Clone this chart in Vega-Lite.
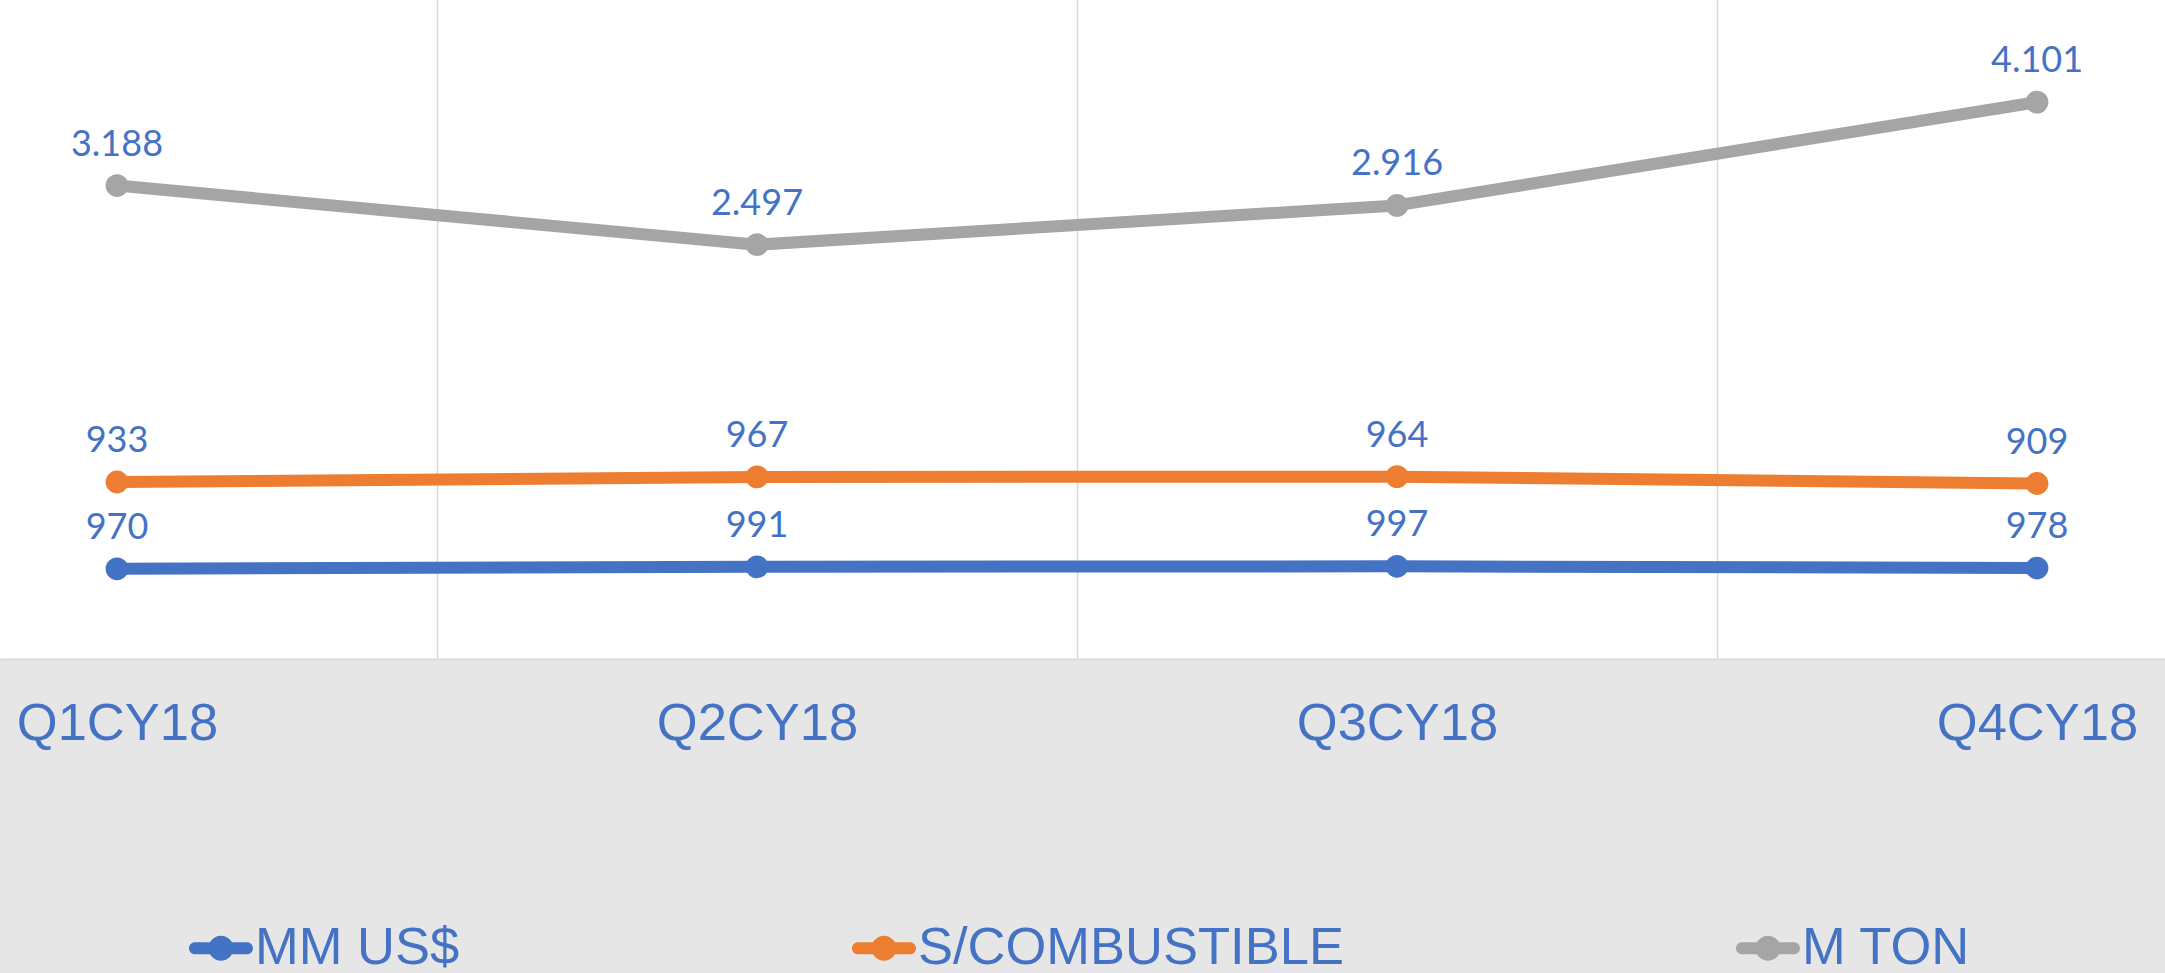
{
  "$schema": "https://vega.github.io/schema/vega-lite/v6.json",
  "width": 2165,
  "height": 659,
  "autosize": {"type": "none"},
  "padding": {"top": 0, "left": 0, "right": 0, "bottom": 314},
  "background": "#e6e6e6",
  "config": {
    "view": {"fill": "white", "stroke": null},
    "locale": {"number": {"decimal": ",", "thousands": ".", "grouping": [3], "currency": ["$", ""]}}
  },
  "data": {
    "values": [
      {"q": "Q1CY18", "s": "MM US$", "v": 970},
      {"q": "Q2CY18", "s": "MM US$", "v": 991},
      {"q": "Q3CY18", "s": "MM US$", "v": 997},
      {"q": "Q4CY18", "s": "MM US$", "v": 978},
      {"q": "Q1CY18", "s": "S/COMBUSTIBLE", "v": 933},
      {"q": "Q2CY18", "s": "S/COMBUSTIBLE", "v": 967},
      {"q": "Q3CY18", "s": "S/COMBUSTIBLE", "v": 964},
      {"q": "Q4CY18", "s": "S/COMBUSTIBLE", "v": 909},
      {"q": "Q1CY18", "s": "M TON", "v": 3188},
      {"q": "Q2CY18", "s": "M TON", "v": 2497},
      {"q": "Q3CY18", "s": "M TON", "v": 2916},
      {"q": "Q4CY18", "s": "M TON", "v": 4101}
    ]
  },
  "transform": [
    {"calculate": "indexof(['Q1CY18','Q2CY18','Q3CY18','Q4CY18'], datum.q)", "as": "i"},
    {"calculate": "indexof(['MM US$','S/COMBUSTIBLE','M TON'], datum.s)", "as": "k"},
    {"stack": "v", "groupby": ["q"], "sort": [{"field": "k", "order": "ascending"}], "as": ["y0", "y1"]}
  ],
  "encoding": {
    "x": {
      "field": "i",
      "type": "quantitative",
      "scale": {"domain": [-0.1828, 3.2], "nice": false, "zero": false},
      "axis": {
        "title": null,
        "values": [0, 0.5, 1, 1.5, 2, 2.5, 3],
        "labelExpr": "datum.value % 1 === 0 ? ['Q1CY18','Q2CY18','Q3CY18','Q4CY18'][datum.value] : ''",
        "labelOverlap": false,
        "labelFlush": false,
        "labelBound": false,
        "labelLimit": 0,
        "labelFont": "Liberation Sans",
        "labelFontSize": 52.5,
        "labelColor": "#4472C4",
        "labelPadding": 39,
        "labelBaseline": "top",
        "ticks": false,
        "grid": true,
        "gridColor": "#d9d9d9",
        "gridWidth": 1.5,
        "gridOpacity": {"condition": {"test": "datum.value % 1 !== 0", "value": 1}, "value": 0},
        "domain": true,
        "domainColor": "#d9d9d9",
        "domainWidth": 2
      }
    },
    "y": {
      "field": "y1",
      "type": "quantitative",
      "scale": {"domain": [0, 7086], "nice": false},
      "axis": null
    }
  },
  "layer": [
    {
      "mark": {"type": "line", "strokeWidth": 12, "strokeCap": "round", "strokeJoin": "round"},
      "encoding": {
        "color": {
          "field": "s",
          "type": "nominal",
          "scale": {"domain": ["MM US$", "S/COMBUSTIBLE", "M TON"], "range": ["#4472C4", "#ED7D31", "#A5A5A5"]},
          "legend": {
            "title": null,
            "orient": "none",
            "direction": "horizontal",
            "columns": 3,
            "legendX": 189,
            "legendY": 916,
            "padding": 0,
            "columnPadding": 392,
            "labelOffset": 2,
            "labelFont": "Liberation Sans",
            "labelFontSize": 52.5,
            "labelColor": "#4472C4",
            "labelLimit": 0,
            "symbolType": "M-0.81,-0.19L0.81,-0.19A0.19,0.19 0 0 1 0.81,0.19L-0.81,0.19A0.19,0.19 0 0 1 -0.81,-0.19Z M-0.39,0A0.39,0.39 0 1 1 0.39,0A0.39,0.39 0 1 1 -0.39,0Z",
            "symbolSize": 4096,
            "symbolStrokeWidth": 0,
            "encode": {
              "symbols": {
                "update": {
                  "fill": {"scale": "color", "field": "value"},
                  "stroke": {"value": "transparent"},
                  "opacity": {"value": 1}
                }
              }
            }
          }
        }
      }
    },
    {
      "mark": {"type": "circle", "size": 520, "opacity": 1},
      "encoding": {
        "color": {"field": "s", "type": "nominal"}
      }
    },
    {
      "mark": {"type": "text", "font": "Lato", "fontSize": 36, "color": "#4472C4", "align": "center", "baseline": "alphabetic", "dy": -30},
      "encoding": {
        "text": {"field": "v", "type": "quantitative", "format": ",d"}
      }
    }
  ]
}
